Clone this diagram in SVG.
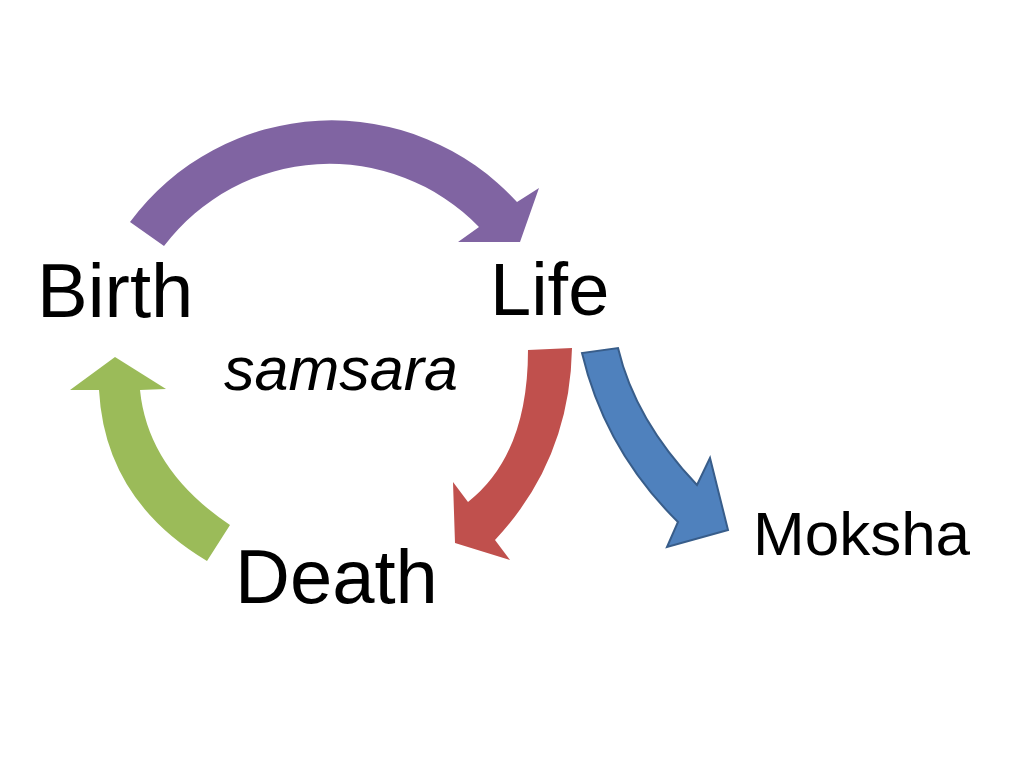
<svg xmlns="http://www.w3.org/2000/svg" width="1024" height="768" viewBox="0 0 1024 768">
  <style>
    .lbl { font-family: "Liberation Sans", Arial, sans-serif; fill: #000000; }
    .big { font-size: 76px; }
    .life { font-size: 74px; }
    .mid { font-size: 62px; }
    .ital { font-size: 61px; font-style: italic; }
    .purple { fill: #8064A2; }
    .red { fill: #C0504D; }
    .blue { fill: #4F81BD; stroke: #385D8A; stroke-width: 2; stroke-linejoin: miter; }
    .green { fill: #9BBB59; }
  </style>
  <rect x="0" y="0" width="1024" height="768" fill="#FFFFFF"/>
  <g id="connectors">
    <path id="birth-to-life" class="purple" d="M130,222 A251,251 0 0 1 517,202 L539,188 L520,242 L458,242 L479,227 A208,208 0 0 0 164,246 Z"/>
    <path id="life-to-death" class="red" d="M528,350 L572,348 Q570,460 495,540 L510,560 L455,543 L453,482 L468,502 Q528,455 528,350 Z"/>
    <path id="life-to-moksha" class="blue" d="M582,353 Q605,450 678,522 L667,547 L728,530 L710,458 L697,485 Q635,420 618,348 Z"/>
    <path id="death-to-birth" class="green" d="M207,561 Q105,500 99,390 L70,390 L115,357 L166,389 L140,390 Q148,470 230,525 Z"/>
  </g>
  <g id="birth"><text class="lbl big" x="37" y="317">Birth</text></g>
  <g id="life"><text class="lbl life" x="490" y="315">Life</text></g>
  <g id="samsara"><text class="lbl ital" x="224" y="390">samsara</text></g>
  <g id="death"><text class="lbl big" x="235" y="603">Death</text></g>
  <g id="moksha"><text class="lbl mid" x="753" y="555">Moksha</text></g>
</svg>
